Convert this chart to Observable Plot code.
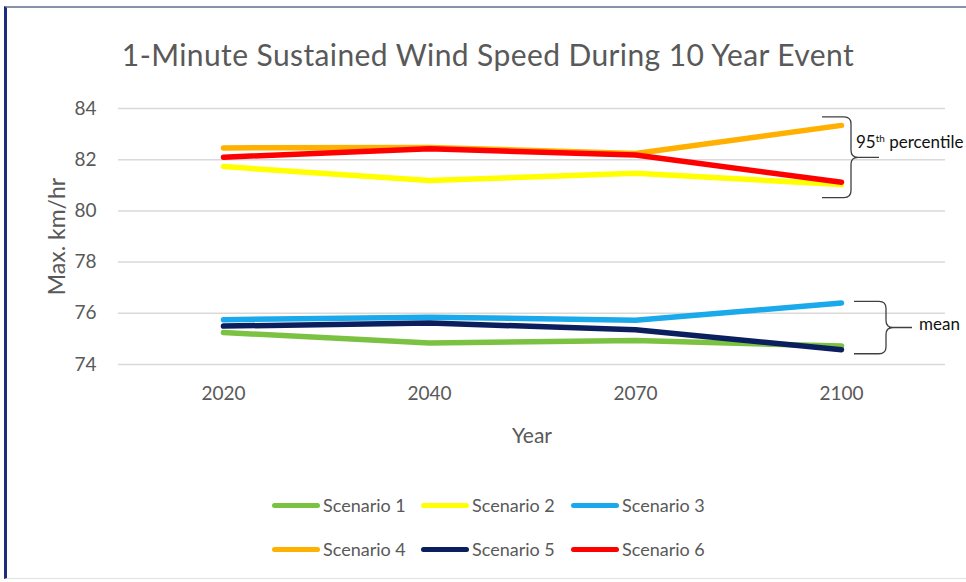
<!DOCTYPE html>
<html>
<head>
<meta charset="utf-8">
<script src="https://cdn.jsdelivr.net/npm/d3@7"></script>
<script src="https://cdn.jsdelivr.net/npm/@observablehq/plot@0.6"></script>
<style>
  html, body { margin: 0; padding: 0; background: #fff; }
  body { width: 966px; height: 582px; position: relative; overflow: hidden;
         font-family: Lato, "Open Sans", sans-serif; color: #595959; }
  #frame { position: absolute; left: 4px; top: 6px; width: 990px; height: 573px;
           border-left: 3px solid #1b2d7c; border-top: 2px solid #8492ab;
           border-bottom: 1px solid #e2e2e2; box-sizing: border-box; }
  #title { position: absolute; left: 0; width: 976px; top: 36px; text-align: center;
           font-size: 30px; letter-spacing: 0.4px; line-height: 36px; color: #595959; }
  #chart { position: absolute; left: 0; top: 80px; }
  #chart svg { overflow: visible; }
  #chart g[aria-label="y-axis label"] { font-size: 23px; }
  #chart g[aria-label="x-axis label"] { font-size: 21px; }
  #legend { position: absolute; left: 272px; top: 493px; display: grid;
            grid-template-columns: 149px 150px 150px; row-gap: 20px; font-size: 18px; }
  .item { display: flex; align-items: center; height: 24px; white-space: nowrap; }
  .swatch { width: 48px; height: 5px; border-radius: 3px; margin-right: 3px; }
</style>
</head>
<body>
<div id="frame"></div>
<div id="title"></div>
<div id="chart"></div>
<div id="legend"></div>
<script>
// Chart text
const titleText = "1-Minute Sustained Wind Speed During 10 Year Event";
const yLabel = "Max. km/hr";
const xLabel = "Year";

// Categories and ticks
const years = ["2020", "2040", "2070", "2100"];
const yTicks = [74, 76, 78, 80, 82, 84];
const scenarios = ["Scenario 1", "Scenario 2", "Scenario 3", "Scenario 4", "Scenario 5", "Scenario 6"];
const colors = ["#7cc242", "#ffff00", "#1aa9ea", "#ffb000", "#0b1f5e", "#ff0000"];

// Maximum 1-minute sustained wind speed (km/hr) per scenario, by year
const scenario1 = [75.25, 74.84, 74.94, 74.72];
const scenario2 = [81.73, 81.19, 81.47, 81.03];
const scenario3 = [75.75, 75.85, 75.73, 76.40];
const scenario4 = [82.46, 82.48, 82.24, 83.34];
const scenario5 = [75.50, 75.62, 75.36, 74.58];
const scenario6 = [82.10, 82.43, 82.18, 81.12];

// Bracketed groups at the right end
const braceLabels = ["95th percentile", "mean"];
const braceHigh = [83.65, 76.45];
const braceLow = [80.50, 74.40];

const series = [scenario1, scenario2, scenario3, scenario4, scenario5, scenario6];
const rows = scenarios.flatMap((name, i) =>
  years.map((year, j) => ({scenario: name, year, value: series[i][j]})));

document.getElementById("title").textContent = titleText;

// Curly braces opening to the left, pointing right toward their labels
function braces(index, scales) {
  const g = d3.create("svg:g").attr("aria-label", "braces")
    .attr("text-anchor", "start");
  const xEnd = scales.x("2100");
  const layouts = [
    {arm: -19, spine: 10, tail: 38, tx: 15, ty: -15},
    {arm: 13, spine: 45, tail: 71, tx: 78, ty: -3}
  ];
  braceLabels.forEach((label, i) => {
    const L = layouts[i];
    const y0 = scales.y(braceHigh[i]), y1 = scales.y(braceLow[i]);
    const ym = (y0 + y1) / 2;
    const x0 = xEnd + L.arm, x1 = xEnd + L.spine, x2 = xEnd + L.tail;
    const r = 7;
    const path = `M${x0},${y0} L${x1 - r},${y0} Q${x1},${y0} ${x1},${y0 + r}
      L${x1},${ym - r} Q${x1},${ym} ${x1 + r},${ym} L${x2},${ym}
      M${x1 + r},${ym} Q${x1},${ym} ${x1},${ym + r}
      L${x1},${y1 - r} Q${x1},${y1} ${x1 - r},${y1} L${x0},${y1}`;
    g.append("path").attr("d", path).attr("fill", "none")
      .attr("stroke", "#404040").attr("stroke-width", 1.3);
    const t = g.append("text").attr("x", xEnd + L.tx).attr("y", ym + L.ty)
      .attr("dy", "0.35em").attr("fill", "#111").attr("font-size", 17);
    const m = label.match(/^(\d+)(th)(.*)$/);
    if (m) {
      t.append("tspan").text(m[1]);
      t.append("tspan").attr("font-size", 10).attr("dy", "-0.6em").text(m[2]);
      t.append("tspan").attr("dy", "0.35em").text(m[3]);
    } else {
      t.text(label);
    }
  });
  return g.node();
}

const chart = Plot.plot({
  width: 966,
  height: 370,
  marginLeft: 118,
  marginRight: 21,
  marginTop: 28,
  marginBottom: 86,
  style: {fontFamily: "Lato, 'Open Sans', sans-serif", fontSize: "19px", color: "#595959", background: "transparent"},
  x: {type: "point", domain: years, padding: 0.5},
  y: {domain: [74, 84]},
  color: {domain: scenarios, range: colors},
  marks: [
    Plot.gridY(yTicks, {stroke: "#d9d9d9", strokeOpacity: 1, strokeWidth: 1.5}),
    Plot.axisY(yTicks, {tickSize: 0, tickPadding: 22, label: yLabel, labelAnchor: "center",
      labelOffset: 70, labelArrow: "none", fill: "#595959"}),
    Plot.axisX(years, {tickSize: 0, tickPadding: 22, label: xLabel, labelAnchor: "center",
      labelOffset: 78, labelArrow: "none", fill: "#595959"}),
    Plot.line(rows, {x: "year", y: "value", z: "scenario", stroke: "scenario",
      strokeWidth: 5.5, strokeLinecap: "round", strokeLinejoin: "round"}),
    braces
  ]
});
document.getElementById("chart").appendChild(chart);

// Legend: colored line swatch followed by scenario name
const legend = document.getElementById("legend");
scenarios.forEach((name, i) => {
  const item = document.createElement("div");
  item.className = "item";
  const sw = document.createElement("span");
  sw.className = "swatch";
  sw.style.background = colors[i];
  const label = document.createElement("span");
  label.textContent = name;
  item.append(sw, label);
  legend.appendChild(item);
});
</script>
</body>
</html>
